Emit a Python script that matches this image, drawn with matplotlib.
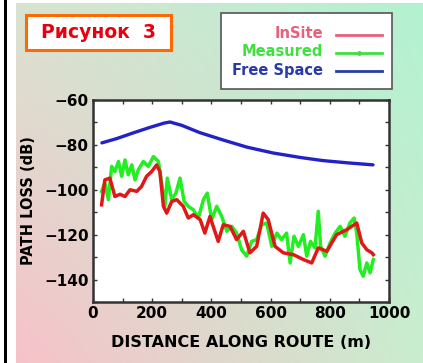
import numpy as np
import matplotlib
matplotlib.use("Agg")
import matplotlib.pyplot as plt
from matplotlib.patches import Rectangle
from matplotlib.lines import Line2D

W, H = 423, 363

# ---- data ----
free_d = [30, 80, 135, 190, 240, 260, 300, 360, 439, 520, 608, 700, 777, 860, 946]
free_v = [-79.1, -77.2, -74.7, -72.3, -70.3, -69.8, -71.3, -74.5, -77.8, -81.0, -83.6, -85.6, -87.0, -88.0, -88.9]

insite_d = [29, 40, 57, 74, 91, 108, 125, 148, 164, 181, 198, 215, 226, 238, 249, 266, 283, 305, 322,
            339, 362, 378, 395, 423, 440, 463, 485, 508, 530, 553, 575, 592, 615, 643, 677, 711, 739,
            761, 790, 823, 857, 891, 908, 925, 942, 947]
insite_v = [-106.7, -95.6, -94.8, -103, -102, -103, -100, -100.7, -98.5, -94, -91.9, -88.9, -91.9, -107.4,
            -110.4, -105.2, -104.4, -107.4, -112.6, -111.1, -113.3, -119.3, -111.9, -123, -115.6, -116.3,
            -122.2, -118.5, -128.1, -125.2, -110.4, -113.3, -125.2, -128.1, -128.9, -131.1, -132.6,
            -125.9, -127.4, -120, -117.8, -114.8, -123.7, -126.7, -128.1, -128.9]

meas_d = [29, 40, 52, 63, 74, 86, 97, 108, 119, 131, 142, 153, 170, 187, 204, 221, 232, 243, 251, 266,
          280, 294, 308, 322, 339, 356, 373, 386, 401, 418, 435, 452, 469, 485, 502, 519, 536, 553, 570,
          587, 604, 621, 637, 654, 666, 679, 694, 711, 722, 735, 750, 761, 769, 784, 801, 818, 835, 851,
          868, 882, 891, 902, 913, 925, 936, 947]
meas_v = [-100.7, -97, -104.4, -89.6, -91.9, -87.4, -94, -86.7, -93.3, -88.9, -95.6, -91.1, -87.4, -89.6,
          -85.2, -87.4, -97, -107.4, -94.8, -104.4, -101.5, -94.8, -105.2, -107.4, -108.9, -112.6, -104.4,
          -101.5, -113.3, -107.4, -111.9, -118.5, -116.3, -119.3, -126.7, -129.6, -123, -122.2, -115.6,
          -114.8, -125.2, -119.3, -122.2, -119.3, -132.6, -120.7, -125.2, -120, -129.6, -123, -125.9,
          -109.6, -125.2, -129.6, -123.7, -119.3, -116.3, -120.7, -114.8, -112.6, -119.3, -135.6, -138.5,
          -132.6, -137, -131.1]

xticks = [0, 200, 400, 600, 800, 1000]
yticks = [-60, -80, -100, -120, -140]

fig = plt.figure(figsize=(W / 100, H / 100), dpi=100)

def fx(px):
    return px / W

def fy(py):
    return 1 - py / H

# background gradient
bg = fig.add_axes([fx(16), 0, 1 - fx(16), fy(3)])
bg.set_axis_off()
tl = np.array([0.85, 0.89, 0.82])
tr = np.array([0.70, 0.95, 0.82])
bl = np.array([0.97, 0.76, 0.79])
br = np.array([0.79, 0.93, 0.81])
u = np.linspace(0, 1, 200)[None, :, None]
v = np.linspace(0, 1, 200)[:, None, None]
img = (1 - v) * ((1 - u) * tl + u * tr) + v * ((1 - u) * bl + u * br)
bg.imshow(img, aspect="auto", extent=[0, 1, 0, 1], origin="upper")
bg.set_xlim(0, 1); bg.set_ylim(0, 1)

# left black line
fig.add_artist(Rectangle((fx(3.5), 0), fx(3), 1, transform=fig.transFigure, color="black", lw=0))

# title box
fig.add_artist(Rectangle((fx(26), fy(50)), fx(145), fy(15) - fy(50), transform=fig.transFigure,
                         facecolor="white", edgecolor="#ff6a00", lw=2.2))
fig.text(fx(98), fy(33), "Рисунок  3", color="#e8000f", fontsize=13.5, fontweight="bold",
         ha="center", va="center")

# legend box
fig.add_artist(Rectangle((fx(221), fy(89)), fx(171), fy(13) - fy(89), transform=fig.transFigure,
                         facecolor="white", edgecolor="#555555", lw=1.2))
leg = [("InSite", "#e8607a", None, 34), ("Measured", "#40e040", ".", 52), ("Free Space", "#2a3aa8", None, 70)]
for lab, col, mk, yy in leg:
    fig.text(fx(323), fy(yy), lab, color=col, fontsize=10.5, fontweight="bold", ha="right", va="center")
    fig.add_artist(Line2D([fx(336), fx(382)], [fy(yy + 1), fy(yy + 1)], transform=fig.transFigure,
                          color=col, lw=2))
    if mk:
        fig.add_artist(Line2D([fx(359)], [fy(yy + 1)], transform=fig.transFigure, color=col,
                              marker="o", ms=2.5))

# main axes
ax = fig.add_axes([fx(93), fy(302), fx(389) - fx(93), fy(100) - fy(302)])
ax.set_facecolor("white")
ax.plot(free_d, free_v, color="#2222c8", lw=2.4, solid_capstyle="round")
ax.plot(meas_d, meas_v, color="#22ee22", lw=2.5, solid_joinstyle="round")
ax.plot(insite_d, insite_v, color="#e01818", lw=2.5, solid_joinstyle="round")
ax.set_xlim(0, 1000)
ax.set_ylim(-150, -60)
ax.set_xticks(xticks)
ax.set_yticks(yticks)
ax.set_xticks(range(0, 1001, 100), minor=True)
ax.set_yticks(range(-150, -59, 10), minor=True)
ax.tick_params(which="both", direction="in", top=True, right=True, length=3, width=1, color="#333333")
ax.tick_params(which="major", labelsize=11, pad=3)
for lbl in ax.get_xticklabels() + ax.get_yticklabels():
    lbl.set_fontweight("bold")
for s in ax.spines.values():
    s.set_linewidth(1.8)
    s.set_color("#333333")
ax.set_xlabel("DISTANCE ALONG ROUTE (m)", fontsize=11.5, fontweight="bold", labelpad=10)
ax.set_ylabel("PATH LOSS (dB)", fontsize=10.5, fontweight="bold", labelpad=6)

fig.savefig("out.png", dpi=100)
